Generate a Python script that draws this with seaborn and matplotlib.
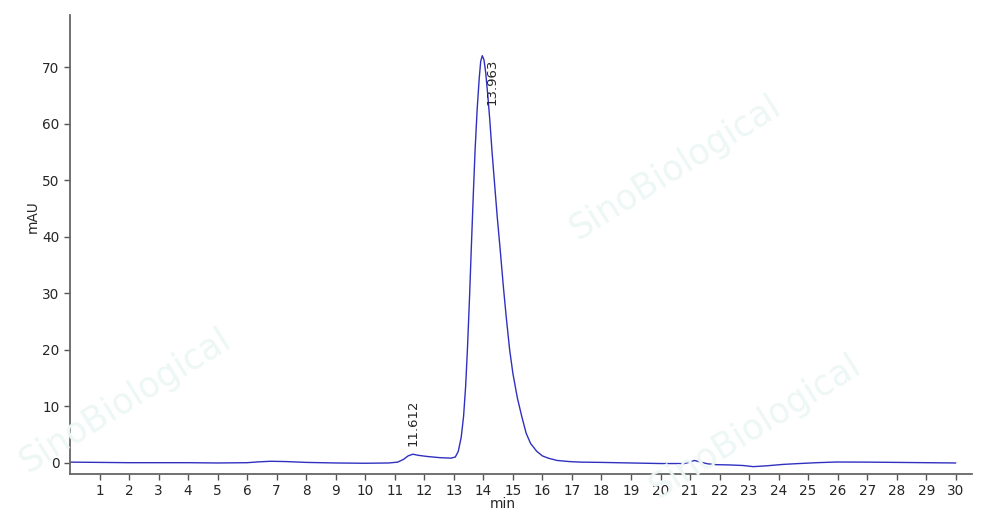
import matplotlib
matplotlib.use("Agg")
import matplotlib.pyplot as plt
import seaborn as sns

# retention time (min) and absorbance (mAU)
time_min = [0, 1, 2, 3, 4, 5, 6, 6.4, 6.8, 7.3, 8, 9, 10, 10.8, 11.1, 11.3, 11.45,
            11.612, 11.8, 12.1, 12.5, 12.9, 13.05, 13.15, 13.25, 13.33, 13.40, 13.46,
            13.53, 13.59, 13.66, 13.72, 13.79, 13.86, 13.91, 13.963, 14.02, 14.08, 14.15,
            14.22, 14.29, 14.37, 14.47, 14.57, 14.68, 14.78, 14.89, 15.0, 15.15, 15.30,
            15.45, 15.6, 15.81, 16.0, 16.2, 16.49, 16.9, 17.3, 18, 19, 20, 20.8, 21.0,
            21.15, 21.35, 21.6, 21.9, 22.35, 22.8, 23.14, 23.6, 24.16, 24.7, 25.29, 25.96,
            27, 28, 29, 30]
mau = [0.1, 0.05, 0.0, 0.0, 0.0, -0.05, 0.0, 0.15, 0.25, 0.2, 0.05, -0.05, -0.1, -0.05,
       0.1, 0.6, 1.2, 1.5, 1.3, 1.1, 0.9, 0.8, 1.0, 2.0, 4.5, 8.2, 13.5, 20.0,
       29.0, 37.7, 47.5, 55.3, 62.5, 68.0, 71.0, 72.0, 71.3, 69.0, 65.0,
       60.5, 55.3, 50.0, 43.5, 37.7, 31.0, 25.5, 20.0, 15.8, 11.5, 8.2,
       5.2, 3.4, 2.0, 1.2, 0.8, 0.4, 0.2, 0.1, 0.05, -0.05, -0.15, -0.15, 0.1,
       0.4, 0.1, -0.2, -0.35, -0.4, -0.5, -0.7, -0.55, -0.3, -0.15, 0.0, 0.12,
       0.1, 0.05, 0.0, -0.05]

peak_times = [11.612, 13.963]
peak_heights = [1.5, 72.0]
peak_labels = ["11.612", "13.963"]

sns.set_style("ticks")
plt.rcParams['font.family'] = ['DejaVu Sans']

fig = plt.figure(figsize=(10, 5.23), dpi=100)
ax = fig.add_axes([0.07, 0.0937, 0.902, 0.8776])

# faint watermarks
wm = dict(color='#edf7f5', fontsize=25, rotation=32, ha='center', va='center', zorder=0)
fig.text(0.675, 0.68, "SinoBiological", **wm)
fig.text(0.125, 0.235, "SinoBiological", **wm)
fig.text(0.755, 0.185, "SinoBiological", **wm)

sns.lineplot(x=time_min, y=mau, ax=ax, color='#3030c0', linewidth=1.0,
             estimator=None, sort=False)

ax.annotate(peak_labels[0], xy=(peak_times[0], peak_heights[0]), xytext=(0, 6),
            textcoords='offset points', rotation=90, ha='center', va='bottom', fontsize=9.5)
ax.annotate(peak_labels[1], xy=(peak_times[1], peak_heights[1]), xytext=(7, -2),
            textcoords='offset points', rotation=90, ha='center', va='top', fontsize=9.5)

ax.set_xlim(0, 30.55)
ax.set_ylim(-2, 79.2)
ax.set_xticks(range(1, 31))
ax.set_yticks(range(0, 71, 10))
ax.tick_params(labelsize=9.8, length=4, width=1, color='#555555')
ax.set_xlabel("min", fontsize=9.8)
ax.set_ylabel("mAU", fontsize=9.8)
ax.xaxis.set_label_coords(0.48, -0.05)
ax.yaxis.set_label_coords(-0.034, 0.56)
ax.patch.set_alpha(0)

sns.despine(ax=ax)
for s in ['left', 'bottom']:
    ax.spines[s].set_color('#666666')
    ax.spines[s].set_linewidth(1.3)

fig.savefig("out.png", dpi=100)
